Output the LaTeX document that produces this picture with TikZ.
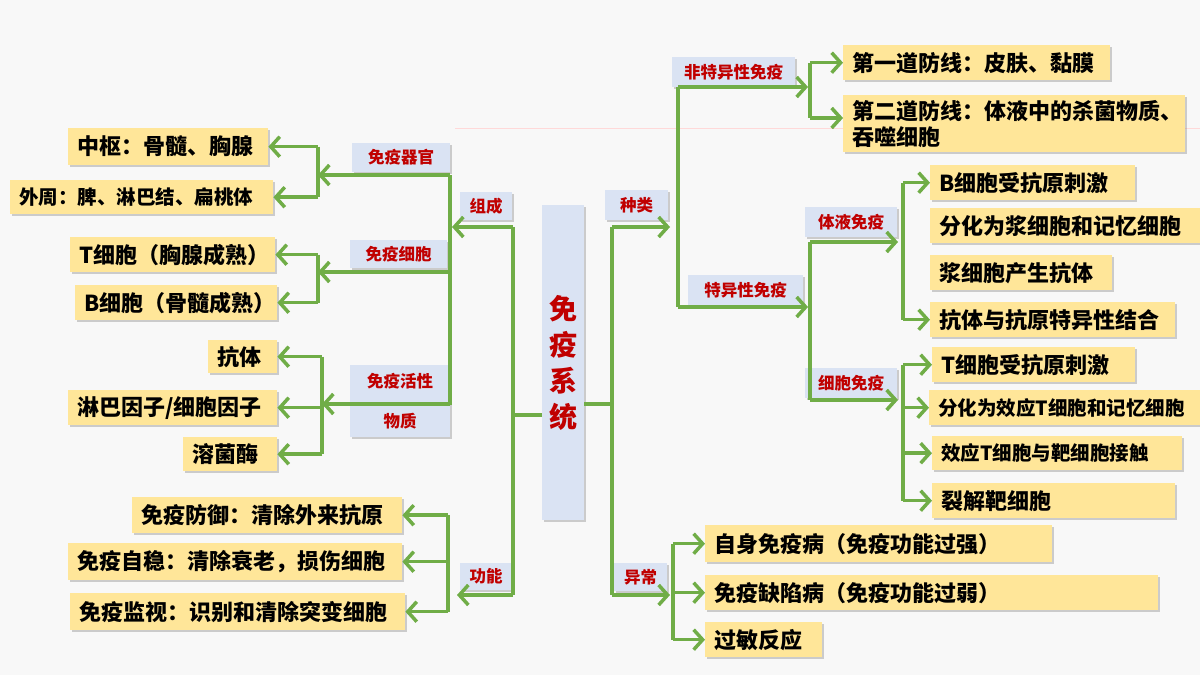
\documentclass[tikz,border=0pt]{standalone}
\usepackage{fontspec}
\newfontfamily\cjk{Noto Sans CJK SC}
\usetikzlibrary{arrows.meta, shadows}
\definecolor{linegreen}{RGB}{112,173,71}
\definecolor{itemfill}{RGB}{255,230,153}
\definecolor{tagfill}{RGB}{218,227,243}
\definecolor{tagred}{RGB}{192,0,0}
\definecolor{bgcol}{RGB}{248,248,248}

\tikzset{
  shade box/.style={drop shadow={shadow xshift=2pt, shadow yshift=-2pt, opacity=.3, fill=black!60}},
  item/.style={shade box, fill=itemfill, anchor=north west, inner xsep=9pt, inner ysep=0pt,
    align=left, font=\cjk\bfseries\fontsize{22}{27}\selectfont},
  small item/.style={item, font=\cjk\bfseries\fontsize{19.5}{24}\selectfont},
  tag/.style={shade box, fill=tagfill, text=tagred, anchor=north west, inner sep=0pt,
    align=center, font=\cjk\bfseries\fontsize{16.5}{20}\selectfont},
  link/.style={draw=linegreen, line width=3.5pt},
  arr/.style={link, -{Straight Barb[length=9pt, width=20pt, line width=3.5pt]}},
}

\begin{document}
\begin{tikzpicture}[x=1pt, y=-1pt]
\useasboundingbox[fill=bgcol] (0,0) rectangle (1200,675);
\draw[red!15, thin] (455,128) -- (1200,128);

% Centre
\node[tag, minimum width=42, minimum height=315, font=\cjk\bfseries\fontsize{28}{36}\selectfont]
  (root) at (542,205) {免\\疫\\系\\统};

% Left: tags
\node[tag, minimum width=52, minimum height=28] (zucheng) at (460,192) {组成};
\node[tag, minimum width=52, minimum height=27] (gongneng) at (460,563) {功能};
\node[tag, minimum width=98, minimum height=29] (qiguan) at (352,143) {免疫器官};
\node[tag, minimum width=97, minimum height=28] (xibao) at (350,240) {免疫细胞};
\node[tag, minimum width=100, minimum height=72, font=\cjk\bfseries\fontsize{16.5}{40}\selectfont]
  (huoxing) at (350,365) {免疫活性\\物质};

% Left: items
\node[item, text width=182, minimum height=37] (zhongshu) at (68,128) {中枢：骨髓、胸腺};
\node[small item, text width=245, minimum height=34] (waizhou) at (10,180) {外周：脾、淋巴结、扁桃体};
\node[item, text width=187, minimum height=35] (tcell) at (70,237) {T细胞（胸腺成熟）};
\node[item, text width=184, minimum height=35] (bcell) at (75,285) {B细胞（骨髓成熟）};
\node[item, text width=51, minimum height=33] (kangti) at (208,340) {抗体};
\node[item, text width=191, minimum height=35] (linba) at (68,390) {淋巴因子/细胞因子};
\node[item, text width=76, minimum height=34] (rongjun) at (183,437) {溶菌酶};
\node[item, text width=252, minimum height=36] (fangyu) at (132,497) {免疫防御：清除外来抗原};
\node[item, text width=316, minimum height=37] (ziwen) at (68,543) {免疫自稳：清除衰老，损伤细胞};
\node[item, text width=317, minimum height=37] (jianshi) at (70,593) {免疫监视：识别和清除突变细胞};

% Right: tags
\node[tag, minimum width=63, minimum height=30] (zhonglei) at (605,190) {种类};
\node[tag, minimum width=53, minimum height=28] (yichang) at (614,563) {异常};
\node[tag, minimum width=123, minimum height=30] (feite) at (672,57) {非特异性免疫};
\node[tag, minimum width=115, minimum height=30] (teyi) at (688,275) {特异性免疫};
\node[tag, minimum width=92, minimum height=30] (tiye) at (805,207) {体液免疫};
\node[tag, minimum width=92, minimum height=30] (xibaomy) at (805,368) {细胞免疫};

% Right: items
\node[item, text width=249, minimum height=35] (diyi) at (843,45) {第一道防线：皮肤、黏膜};
\node[item, text width=324, minimum height=57, font=\cjk\bfseries\fontsize{22}{26}\selectfont]
  (dier) at (843,95) {第二道防线：体液中的杀菌物质、\\吞噬细胞};
\node[item, text width=187, minimum height=35] (bone) at (930,165) {B细胞受抗原刺激};
\node[item, text width=252, minimum height=35] (btwo) at (930,208) {分化为浆细胞和记忆细胞};
\node[item, text width=164, minimum height=35] (bthree) at (930,255) {浆细胞产生抗体};
\node[item, text width=227, minimum height=35] (bfour) at (930,302) {抗体与抗原特异性结合};
\node[item, text width=185, minimum height=35] (tone) at (932,347) {T细胞受抗原刺激};
\node[small item, text width=253, minimum height=35] (ttwo) at (929,390) {分化为效应T细胞和记忆细胞};
\node[small item, text width=232, minimum height=34] (tthree) at (932,436) {效应T细胞与靶细胞接触};
\node[item, text width=225, minimum height=35] (tfour) at (932,483) {裂解靶细胞};
\node[item, text width=329, minimum height=37] (zishen) at (705,525) {自身免疫病（免疫功能过强）};
\node[item, text width=435, minimum height=35] (quexian) at (705,575) {免疫缺陷病（免疫功能过弱）};
\node[item, text width=99, minimum height=35] (guomin) at (705,622) {过敏反应};

% Hubs
\coordinate (hL) at (513,0);
\coordinate (hZ) at (450,0);
\coordinate (hG) at (448,0);
\coordinate (hA) at (318,0);
\coordinate (hC) at (322,0);
\coordinate (hR) at (612,0);
\coordinate (hK) at (678,0);
\coordinate (hY) at (673,0);
\coordinate (hF) at (810,0);
\coordinate (hH) at (903,0);

% Left trunk
\draw[link] (root.west |- 0,415) -- (hL |- 0,415);
\draw[link] (hL |- 0,227) -- (hL |- 0,595);
\draw[arr] (hL |- 0,227) -- (452,227);
\draw[arr] (hL |- 0,595) -- (457,595);

% Composition
\draw[link] (hZ |- 0,175) -- (hZ |- 0,405);
\draw[arr] (hZ |- 0,175) -- (hA |- 0,175);
\draw[arr] (hZ |- 0,272) -- (hA |- 0,272);
\draw[arr] (hZ |- 0,404) -- (hC |- 0,404);
\draw[link] (zhongshu.east -| hA) -- (waizhou.east -| hA);
\draw[arr] (zhongshu.east -| hA) -- (zhongshu.east);
\draw[arr] (waizhou.east -| hA) -- (waizhou.east);
\draw[link] (tcell.east -| hA) -- (bcell.east -| hA);
\draw[arr] (tcell.east -| hA) -- (tcell.east);
\draw[arr] (bcell.east -| hA) -- (bcell.east);
\draw[link] (kangti.east -| hC) -- (rongjun.east -| hC);
\draw[arr] (kangti.east -| hC) -- (kangti.east);
\draw[arr] (linba.east -| hC) -- (linba.east);
\draw[arr] (rongjun.east -| hC) -- (rongjun.east);

% Function
\draw[link] (fangyu.east -| hG) -- (jianshi.east -| hG);
\draw[arr] (fangyu.east -| hG) -- (fangyu.east);
\draw[arr] (ziwen.east -| hG) -- (ziwen.east);
\draw[arr] (jianshi.east -| hG) -- (jianshi.east);

% Right trunk
\draw[link] (root.east |- 0,404) -- (hR |- 0,404);
\draw[link] (hR |- 0,227) -- (hR |- 0,595);
\draw[arr] (hR |- 0,227) -- (670,227);
\draw[arr] (hR |- 0,595) -- (670,595);

% Kinds
\draw[link] (hK |- 0,87) -- (hK |- 0,307);
\draw[arr] (hK |- 0,87) -- (808,87);
\draw[arr] (hK |- 0,307) -- (808,307);
\draw[link] (diyi.west -| hF) -- (hF |- 0,118);
\draw[arr] (diyi.west -| hF) -- (diyi.west);
\draw[arr] (hF |- 0,118) -- (dier.west |- 0,118);
\draw[link] (hF |- 0,242) -- (hF |- 0,400);
\draw[arr] (hF |- 0,242) -- (898,242);
\draw[arr] (hF |- 0,400) -- (898,400);
\draw[link] (bone.west -| hH) -- (bfour.west -| hH);
\draw[arr] (bone.west -| hH) -- (bone.west);
\draw[arr] (bfour.west -| hH) -- (bfour.west);
\draw[link] (tone.west -| hH) -- (tfour.west -| hH);
\draw[arr] (tone.west -| hH) -- (tone.west);
\draw[arr] (ttwo.west -| hH) -- (ttwo.west);
\draw[arr] (tthree.west -| hH) -- (tthree.west);
\draw[arr] (tfour.west -| hH) -- (tfour.west);

% Abnormal
\draw[link] (zishen.west -| hY) -- (guomin.west -| hY);
\draw[arr] (zishen.west -| hY) -- (zishen.west);
\draw[arr] (quexian.west -| hY) -- (quexian.west);
\draw[arr] (guomin.west -| hY) -- (guomin.west);
\end{tikzpicture}
\end{document}
